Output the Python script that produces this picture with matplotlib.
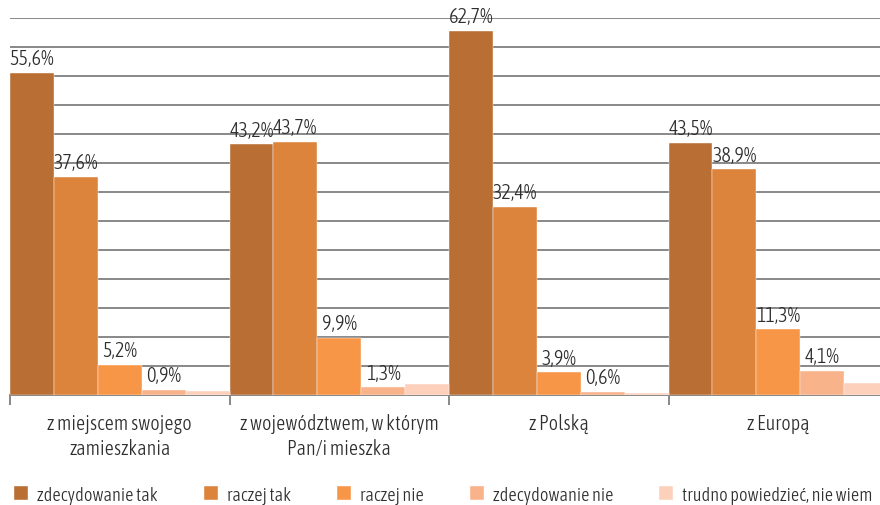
import numpy as np
import matplotlib.pyplot as plt
from matplotlib import font_manager

categories = ["z miejscem swojego\nzamieszkania",
              "z województwem, w którym\nPan/i mieszka",
              "z Polską",
              "z Europą"]
series = ["zdecydowanie tak", "raczej tak", "raczej nie",
          "zdecydowanie nie", "trudno powiedzieć, nie wiem"]
zdecydowanie_tak = [55.6, 43.2, 62.7, 43.5]
raczej_tak = [37.6, 43.7, 32.4, 38.9]
raczej_nie = [5.2, 9.9, 3.9, 11.3]
zdecydowanie_nie = [0.9, 1.3, 0.6, 4.1]
trudno = [0.7, 1.9, 0.4, 2.1]
values = [zdecydowanie_tak, raczej_tak, raczej_nie, zdecydowanie_nie, trudno]
show_labels = [True, True, True, True, False]
colors = ["#B96F33", "#DC843C", "#F79646", "#F9B38A", "#FCD0BA"]

# condensed face if available, else fall back
names = {f.name for f in font_manager.fontManager.ttflist}
fam = [f for f in ["Asap Condensed", "Archivo Narrow", "Liberation Sans Narrow",
                   "DejaVu Sans"] if f in names]
plt.rcParams["font.family"] = fam
plt.rcParams["font.weight"] = 300
plt.rcParams["font.size"] = 14.5
txt_color = "#2e2e2e"

fig = plt.figure(figsize=(8.8, 5.06), dpi=100)
ax = fig.add_axes([10 / 880, 110 / 506, 878 / 880, 377 / 506])

x = np.arange(len(categories))
w = 0.2
for i, vals in enumerate(values):
    pos = x - 0.5 + w / 2 + i * w
    bars = ax.bar(pos, vals, width=w, color=colors[i], label=series[i],
                  edgecolor="white", linewidth=0.3, zorder=3)
    if show_labels[i]:
        for b, v in zip(bars, vals):
            ax.annotate(f"{v:.1f}%".replace(".", ","),
                        (b.get_x() + b.get_width() / 2, v),
                        xytext=(0, 3.5), textcoords="offset points",
                        ha="center", va="bottom", color=txt_color,
                        annotation_clip=False)

ax.set_xlim(-0.5, len(categories) - 0.5)
ax.set_ylim(0, 65)
ax.set_yticks(np.arange(5, 66, 5))
ax.yaxis.grid(True, color="#888888", linewidth=1.4, zorder=0)
ax.tick_params(axis="y", length=0, labelleft=False)
for s in ["left", "right", "top"]:
    ax.spines[s].set_visible(False)
ax.spines["bottom"].set_color("#888888")
ax.spines["bottom"].set_linewidth(1.4)

ax.set_xticks(x)
ax.set_xticklabels(categories, color=txt_color, linespacing=1.3)
ax.tick_params(axis="x", which="major", length=0, pad=13)
ax.set_xticks(np.arange(-0.5, len(categories)), minor=True)
ax.tick_params(axis="x", which="minor", length=7, width=1.4, color="#888888")

leg = fig.legend(loc="lower left", bbox_to_anchor=(-0.003, -0.03), ncol=5,
                 frameon=False, fontsize=13.2, handlelength=0.77,
                 handleheight=0.77, handletextpad=0.49, columnspacing=2.5)
for t in leg.get_texts():
    t.set_color(txt_color)

fig.savefig("out.png", dpi=100)
